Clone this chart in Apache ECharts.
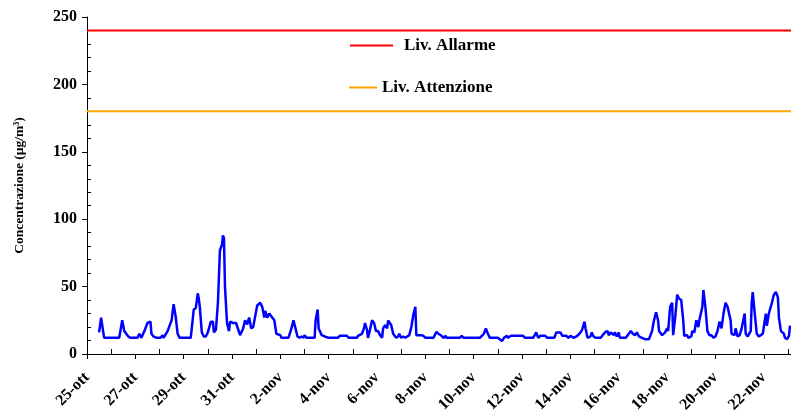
<!DOCTYPE html>
<html>
<head>
<meta charset="utf-8">
<script src="https://cdn.jsdelivr.net/npm/echarts@6/dist/echarts.min.js"></script>
<style>html,body{margin:0;padding:0;background:#fff}#c{width:791px;height:418px}</style>
</head>
<body>
<div id="c"></div>
<script>
// Hours since 25-ott 00:00
const hours = [12,14,15,17,32,35,37,39,41,43,50,52,54,57,60,63,64,66,69,73,75,76,80,84,86,88,90,92,103,106,108,110,111,112,114,116,118,120,123,125,126,128,130,132,134,135,136,137,139,140,141,142,145,148,152,155,157,159,161,163,165,167,169,172,174,176,177,179,181,183,186,188,192,193,200,203,205,207,209,211,213,215,216,218,226,227,229,230,233,236,240,249,251,258,260,268,269,273,275,276,278,279,281,283,285,287,289,291,293,294,296,298,299,302,304,307,309,310,312,314,316,318,320,322,324,326,327,331,334,336,344,347,349,352,354,356,357,370,372,374,390,394,396,398,400,408,412,414,417,418,421,433,435,443,446,448,450,455,457,464,466,470,472,476,478,480,483,486,489,491,492,494,495,497,500,501,503,505,510,512,515,517,518,520,523,524,526,528,529,535,538,540,542,544,546,548,549,551,554,558,559,561,563,565,567,568,571,572,574,576,577,579,581,582,584,586,588,590,592,593,596,597,600,601,603,605,607,608,611,612,614,616,618,620,622,624,626,628,630,632,634,636,639,640,643,644,646,648,650,653,654,656,659,660,661,663,665,667,669,671,673,674,675,677,678,680,682,684,686,687,689,692,693,695,697,698];
// Concentration values (µg/m3)
const values = [16,27,26,12,12,25,17,15,13,12,12,15,12,17,23,24,15,13,12,12,14,12,17,25,37,28,15,12,12,33,34,45,41,35,16,13,13,16,24,24,16,18,38,77,81,88,86,50,23,24,17,24,23,23,14,19,25,22,27,19,20,28,36,38,35,27,32,27,30,28,25,15,14,12,12,19,25,19,13,12,13,12,14,12,12,25,33,19,14,13,12,12,13.5,13.5,12,12,13.5,15,19,23,18,12,18,25,23,17,17,14,12,19,21.5,19,25,21.5,15,12,13,15,12,13,12,13,14,20,29,35,14,14,13.5,12,12,16.5,15,13.5,12,13.5,12,12,13.5,12,12,15,19,15,12,12,9.6,12,13.5,12,13.5,13.5,12,12,16,12,13.5,13.5,12,12,16,16,13.5,13.5,12,13.5,12,13,15,17,19,24,19,12,13,16,13,12,12,14,16.5,17,14,16,14,16,13,16,12,12,15,17,15,14,16,13,14,12,11,11,13,17,25,31,25,17,14,13,16,19,17,35,38,14,27,44,41,40,25,13.5,14,12,13,17,16,25,20,25,35,47.5,35,17,14,14,12,13,17,24,19,30,38,35,25,15,14,19,13,14,19,30,15,13,17,38,46,30,15,13,14,15,25,30,21,30,31,38,44,46,42,27,17,15,12,11,13.5,21];
const tickLabels = ['25-ott','27-ott','29-ott','31-ott','2-nov','4-nov','6-nov','8-nov','10-nov','12-nov','14-nov','16-nov','18-nov','20-nov','22-nov'];
const alarmLevel = 240;
const attentionLevel = 180;
const xMax = 699;

const serif = '"Liberation Serif","Times New Roman",serif';
const minorX = [];
for (let h = 24; h <= xMax; h += 48) minorX.push(h);
const minorY = [];
for (let v = 10; v < 250; v += 10) if (v % 50 !== 0) minorY.push(v);

const legendText = {fontFamily: serif, fontWeight: 'bold', fontSize: 17, color: '#000'};
const chart = echarts.init(document.getElementById('c'), null, {renderer: 'canvas'});
chart.setOption({
  animation: false,
  backgroundColor: '#fff',
  grid: {left: 87, right: 0, top: 17, bottom: 64, containLabel: false},
  legend: [{
    data: ['Liv. Allarme'], left: 350, top: 37, icon: 'rect',
    itemWidth: 43, itemHeight: 2, padding: 0,
    textStyle: Object.assign({padding: [0, 0, 0, 6]}, legendText)
  }, {
    data: ['Liv. Attenzione'], left: 349, top: 79, icon: 'rect',
    itemWidth: 28, itemHeight: 2, padding: 0,
    textStyle: legendText
  }],
  xAxis: [{
    type: 'value', min: 0, max: xMax, interval: 48,
    axisLine: {lineStyle: {color: '#000', width: 1}},
    axisTick: {show: true, inside: false, length: 5, lineStyle: {color: '#000'}},
    splitLine: {show: false},
    axisLabel: {
      rotate: 45, margin: 21, color: '#000', fontFamily: serif, fontWeight: 'bold', fontSize: 16,
      showMaxLabel: false,
      formatter: v => tickLabels[Math.round(v / 48)] || ''
    }
  }, {
    type: 'value', min: 0, max: xMax, position: 'bottom',
    axisLine: {show: false},
    axisTick: {show: true, inside: true, length: 5, customValues: minorX, lineStyle: {color: '#000'}},
    axisLabel: {show: false}, splitLine: {show: false}
  }],
  yAxis: [{
    type: 'value', min: 0, max: 250, interval: 50,
    name: 'Concentrazione (µg/m³)', nameLocation: 'middle', nameGap: 60, nameRotate: 90,
    nameTextStyle: {fontFamily: serif, fontWeight: 'bold', fontSize: 13.5, color: '#000'},
    axisLine: {show: true, lineStyle: {color: '#000', width: 1}},
    axisTick: {show: true, inside: false, length: 5, lineStyle: {color: '#000'}},
    splitLine: {show: false},
    axisLabel: {margin: 10, color: '#000', fontFamily: serif, fontWeight: 'bold', fontSize: 16}
  }, {
    type: 'value', min: 0, max: 250, position: 'left',
    axisLine: {show: false},
    axisTick: {show: true, inside: true, length: 4, customValues: minorY, lineStyle: {color: '#000'}},
    axisLabel: {show: false}, splitLine: {show: false}
  }],
  series: [{
    name: 'Concentrazione', type: 'line', xAxisIndex: 0, yAxisIndex: 0,
    data: hours.map((h, i) => [h, values[i]]),
    showSymbol: false, symbol: 'none',
    lineStyle: {color: '#0000FF', width: 2.5}, itemStyle: {color: '#0000FF'}
  }, {
    name: 'Liv. Allarme', type: 'line', xAxisIndex: 0, yAxisIndex: 0,
    data: [[0, alarmLevel], [xMax, alarmLevel]], symbol: 'none',
    lineStyle: {color: '#FF0000', width: 2}, itemStyle: {color: '#FF0000'}
  }, {
    name: 'Liv. Attenzione', type: 'line', xAxisIndex: 0, yAxisIndex: 0,
    data: [[0, attentionLevel], [xMax, attentionLevel]], symbol: 'none',
    lineStyle: {color: '#FFA500', width: 2}, itemStyle: {color: '#FFA500'}
  }]
});
</script>
</body>
</html>
